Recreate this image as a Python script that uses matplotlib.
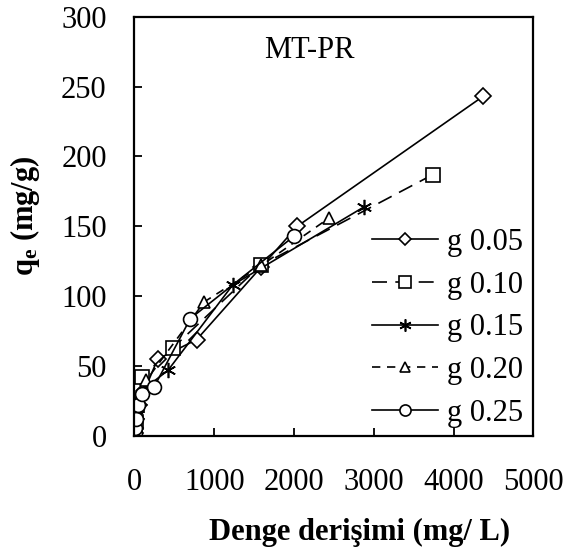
import matplotlib
matplotlib.use("Agg")
import matplotlib.pyplot as plt

plt.rcParams['font.family'] = ['Liberation Serif', 'DejaVu Serif']
plt.rcParams['mathtext.fontset'] = 'custom'
plt.rcParams['mathtext.rm'] = 'Liberation Serif'
plt.rcParams['mathtext.bf'] = 'Liberation Serif:bold'
plt.rcParams['mathtext.it'] = 'Liberation Serif:italic'

# data
labels = ["g 0.05", "g 0.10", "g 0.15", "g 0.20", "g 0.25"]
x05 = [3, 10, 25, 60, 120, 290, 780, 1590, 2040, 4370]
y05 = [2, 6, 12, 22, 32, 55, 69, 121, 150, 243]
x10 = [5, 15, 35, 90, 480, 1580, 3740]
y10 = [4, 10, 22, 42, 63, 122, 187]
x15 = [4, 12, 30, 70, 150, 420, 1230, 2880]
y15 = [3, 7, 15, 25, 35, 47, 108, 164]
x20 = [3, 10, 25, 60, 150, 875, 1590, 2440]
y20 = [3, 8, 16, 25, 40, 96, 122, 156]
x25 = [2, 8, 20, 50, 100, 245, 700, 2000]
y25 = [2, 6, 12, 22, 30, 35, 84, 143]
xticks = [0, 1000, 2000, 3000, 4000, 5000]
yticks = [0, 50, 100, 150, 200, 250, 300]

fig = plt.figure(figsize=(5.76, 5.56), dpi=100)
ax = fig.add_axes([0.2335, 0.2158, 0.6924, 0.7542])

lw = 1.2
common = dict(color='black', lw=lw, mfc='white', mec='black', mew=1.2)
ax.plot(x05, y05, ls='-', marker='D', ms=8, label=labels[0], **common)
ax.plot(x10, y10, ls=(0, (9, 5)), marker='s', ms=10, label=labels[1], **common)
ax.plot(x15, y15, ls='-', marker=(6, 2, 0), ms=11, label=labels[2], **common)
ax.plot(x20, y20, ls=(0, (5, 4)), marker='^', ms=9, label=labels[3], **common)
ax.plot(x25, y25, ls='-', marker='o', ms=10, label=labels[4], **common)

ax.set_xlim(0, 5000)
ax.set_ylim(0, 300)
ax.set_xticks(xticks)
ax.set_yticks(yticks)
ax.tick_params(direction='in', length=6, width=1.3, labelsize=22,
               top=False, right=False)
ax.tick_params(axis='x', pad=23)
ax.tick_params(axis='y', pad=20)
for s in ax.spines.values():
    s.set_linewidth(1.6)

ax.text(0.4375, 0.92, "MT-PR", transform=ax.transAxes, ha='center',
        va='center', fontsize=22)

ax.set_ylabel(r"$\mathbf{q_e}$ (mg/g)", fontsize=22, fontweight='bold')
ax.yaxis.set_label_coords((42 - 134.5) / 398.8, (436 - 216) / 419.3)
fig.text(360 / 576, 1 - 532 / 556, "Denge derişimi (mg/ L)", ha='center',
         va='center', fontsize=22, fontweight='bold')

ax.legend(loc='lower right', bbox_to_anchor=(1.012, -0.017), frameon=False,
          fontsize=22, handlelength=2.15, handletextpad=0.3,
          labelspacing=0.45, borderaxespad=0.1, markerscale=0.8)

fig.savefig("out.png", dpi=100)
